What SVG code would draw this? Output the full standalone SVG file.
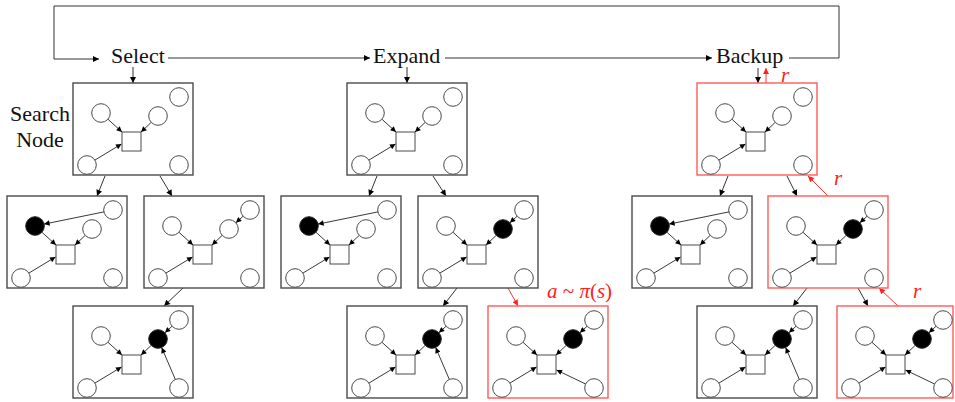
<svg xmlns="http://www.w3.org/2000/svg" xmlns:xlink="http://www.w3.org/1999/xlink" width="955" height="402" viewBox="0 0 955 402">
<style>
.box{fill:#fff;stroke:#4a4a4a;stroke-width:1.4}
.rbox{fill:#fff;stroke:#ff5a5a;stroke-width:1.4}
.c{fill:#fff;stroke:#4a4a4a;stroke-width:1}
.b{fill:#000;stroke:#222;stroke-width:1}
.sq{fill:#fff;stroke:#4a4a4a;stroke-width:1}
.e{stroke:#222;stroke-width:0.9;fill:none;marker-end:url(#ah)}
.k{stroke:#333;stroke-width:1;fill:none}
.ka{stroke:#333;stroke-width:1;fill:none;marker-end:url(#ak)}
.ra{stroke:#ff3030;stroke-width:1;fill:none;marker-end:url(#ar)}
.lbl{font-size:22px;fill:#111}
.rl{font-size:21px;fill:#ff2020}
</style>
<defs>
<marker id="ah" viewBox="0 0 10 10" refX="10" refY="5" markerWidth="6.5" markerHeight="5.5" markerUnits="userSpaceOnUse" orient="auto"><path d="M0,0L10,5L0,10z" fill="#000"/></marker>
<marker id="ak" viewBox="0 0 10 10" refX="10" refY="5" markerWidth="7" markerHeight="6" markerUnits="userSpaceOnUse" orient="auto"><path d="M0,0L10,5L0,10z" fill="#000"/></marker>
<marker id="ar" viewBox="0 0 10 10" refX="10" refY="5" markerWidth="7" markerHeight="6" markerUnits="userSpaceOnUse" orient="auto"><path d="M0,0L10,5L0,10z" fill="#ff2020"/></marker>
<g id="base">
<rect class="sq" x="49" y="49" width="19" height="19"/>
<circle class="c" cx="106" cy="14" r="9.3"/>
<circle class="c" cx="14" cy="82" r="9.3"/>
<circle class="c" cx="106" cy="82" r="9.3"/>
<line class="e" x1="34.9" y1="36.2" x2="49" y2="49"/>
<line class="e" x1="78.2" y1="39.4" x2="68" y2="49"/>
<line class="e" x1="21.9" y1="77.1" x2="48.5" y2="61"/>
</g>
</defs>

<g id="connectors">
<polyline class="k" points="839,58 839,6 54,6 54,59"/>
<line class="ka" x1="54" y1="59" x2="99" y2="59"/>
<line class="ka" x1="168" y1="58" x2="370" y2="58"/>
<line class="ka" x1="445" y1="58" x2="712" y2="58"/>
<line class="k" x1="789" y1="58" x2="839" y2="58"/>
<line class="ka" x1="133" y1="67" x2="133" y2="83"/>
<line class="ka" x1="407" y1="67" x2="407" y2="83"/>
<line class="ka" x1="758" y1="68" x2="758" y2="83"/>
<line class="ra" x1="766" y1="83" x2="766" y2="68"/>
<line class="ka" x1="105" y1="176" x2="97" y2="196"/>
<line class="ka" x1="160" y1="176" x2="172" y2="196"/>
<line class="ka" x1="183" y1="288" x2="164" y2="306"/>
<line class="ka" x1="377" y1="176" x2="369" y2="196"/>
<line class="ka" x1="433" y1="176" x2="446" y2="196"/>
<line class="ka" x1="457" y1="288" x2="443" y2="306"/>
<line class="ra" x1="508" y1="288" x2="518" y2="306"/>
<line class="ka" x1="728" y1="176" x2="720" y2="196"/>
<line class="ka" x1="787" y1="176" x2="797" y2="196"/>
<line class="ra" x1="828" y1="196" x2="808" y2="176"/>
<line class="ka" x1="807" y1="288" x2="793" y2="306"/>
<line class="ka" x1="858" y1="288" x2="868" y2="306"/>
<line class="ra" x1="898" y1="306" x2="879" y2="288"/>
</g>

<g id="labels" font-family="'Liberation Serif', 'DejaVu Serif', serif">
<text class="lbl" font-family="Liberation Serif, DejaVu Serif, serif" x="111" y="63">Select</text>
<text class="lbl" font-family="Liberation Serif, DejaVu Serif, serif" x="373" y="63">Expand</text>
<text class="lbl" font-family="Liberation Serif, DejaVu Serif, serif" x="716" y="63">Backup</text>
<text class="lbl" font-family="Liberation Serif, DejaVu Serif, serif" x="40" y="121" text-anchor="middle">Search</text>
<text class="lbl" font-family="Liberation Serif, DejaVu Serif, serif" x="40" y="147" text-anchor="middle">Node</text>
<text class="rl" font-family="Liberation Serif, DejaVu Serif, serif" x="547" y="298"><tspan font-style="italic">a</tspan> ~ <tspan font-style="italic">π</tspan>(<tspan font-style="italic">s</tspan>)</text>
<text class="rl" font-family="Liberation Serif, DejaVu Serif, serif" x="781" y="82" font-style="italic">r</text>
<text class="rl" font-family="Liberation Serif, DejaVu Serif, serif" x="834" y="185" font-style="italic">r</text>
<text class="rl" font-family="Liberation Serif, DejaVu Serif, serif" x="913" y="298" font-style="italic">r</text>
</g>

<!-- Select column -->
<g id="sel-root" transform="translate(73,83)">
<rect class="box" width="120" height="92"/>
<use xlink:href="#base"/>
<circle class="c" cx="28" cy="30" r="9.3"/>
<circle class="c" cx="85" cy="33" r="9.3"/>
</g>
<g id="sel-a" transform="translate(7,196)">
<rect class="box" width="120" height="92"/>
<use xlink:href="#base"/>
<circle class="b" cx="28" cy="30" r="9.3"/>
<circle class="c" cx="85" cy="33" r="9.3"/>
<line class="e" x1="96.9" y1="15.9" x2="37.1" y2="28.1"/>
</g>
<g id="sel-b" transform="translate(144,196)">
<rect class="box" width="120" height="92"/>
<use xlink:href="#base"/>
<circle class="c" cx="28" cy="30" r="9.3"/>
<circle class="c" cx="85" cy="33" r="9.3"/>
<line class="e" x1="99.1" y1="20.2" x2="91.9" y2="26.8"/>
</g>
<g id="sel-c" transform="translate(73,306)">
<rect class="box" width="120" height="92"/>
<use xlink:href="#base"/>
<circle class="c" cx="28" cy="30" r="9.3"/>
<circle class="b" cx="85" cy="33" r="9.3"/>
<line class="e" x1="99.1" y1="20.2" x2="91.9" y2="26.8"/>
<line class="e" x1="102.3" y1="73.4" x2="88.7" y2="41.6"/>
</g>

<!-- Expand column -->
<g id="exp-root" transform="translate(347,83)">
<rect class="box" width="120" height="92"/>
<use xlink:href="#base"/>
<circle class="c" cx="28" cy="30" r="9.3"/>
<circle class="c" cx="85" cy="33" r="9.3"/>
</g>
<g id="exp-a" transform="translate(281,196)">
<rect class="box" width="120" height="92"/>
<use xlink:href="#base"/>
<circle class="b" cx="28" cy="30" r="9.3"/>
<circle class="c" cx="85" cy="33" r="9.3"/>
<line class="e" x1="96.9" y1="15.9" x2="37.1" y2="28.1"/>
</g>
<g id="exp-b" transform="translate(418,196)">
<rect class="box" width="120" height="92"/>
<use xlink:href="#base"/>
<circle class="c" cx="28" cy="30" r="9.3"/>
<circle class="b" cx="85" cy="33" r="9.3"/>
<line class="e" x1="99.1" y1="20.2" x2="91.9" y2="26.8"/>
</g>
<g id="exp-c" transform="translate(347,306)">
<rect class="box" width="120" height="92"/>
<use xlink:href="#base"/>
<circle class="c" cx="28" cy="30" r="9.3"/>
<circle class="b" cx="85" cy="33" r="9.3"/>
<line class="e" x1="99.1" y1="20.2" x2="91.9" y2="26.8"/>
<line class="e" x1="102.3" y1="73.4" x2="88.7" y2="41.6"/>
</g>
<g id="exp-d" transform="translate(488,306)">
<rect class="rbox" width="120" height="92"/>
<use xlink:href="#base"/>
<circle class="c" cx="28" cy="30" r="9.3"/>
<circle class="b" cx="85" cy="33" r="9.3"/>
<line class="e" x1="99.1" y1="20.2" x2="91.9" y2="26.8"/>
<line class="e" x1="97.6" y1="78" x2="68.5" y2="64"/>
</g>

<!-- Backup column -->
<g id="bak-root" transform="translate(697,83)">
<rect class="rbox" width="120" height="92"/>
<use xlink:href="#base"/>
<circle class="c" cx="28" cy="30" r="9.3"/>
<circle class="c" cx="85" cy="33" r="9.3"/>
</g>
<g id="bak-a" transform="translate(632,196)">
<rect class="box" width="120" height="92"/>
<use xlink:href="#base"/>
<circle class="b" cx="28" cy="30" r="9.3"/>
<circle class="c" cx="85" cy="33" r="9.3"/>
<line class="e" x1="96.9" y1="15.9" x2="37.1" y2="28.1"/>
</g>
<g id="bak-b" transform="translate(768,196)">
<rect class="rbox" width="120" height="92"/>
<use xlink:href="#base"/>
<circle class="c" cx="28" cy="30" r="9.3"/>
<circle class="b" cx="85" cy="33" r="9.3"/>
<line class="e" x1="99.1" y1="20.2" x2="91.9" y2="26.8"/>
</g>
<g id="bak-c" transform="translate(697,306)">
<rect class="box" width="120" height="92"/>
<use xlink:href="#base"/>
<circle class="c" cx="28" cy="30" r="9.3"/>
<circle class="b" cx="85" cy="33" r="9.3"/>
<line class="e" x1="99.1" y1="20.2" x2="91.9" y2="26.8"/>
<line class="e" x1="102.3" y1="73.4" x2="88.7" y2="41.6"/>
</g>
<g id="bak-d" transform="translate(837,306)">
<rect class="rbox" width="116" height="92"/>
<use xlink:href="#base"/>
<circle class="c" cx="28" cy="30" r="9.3"/>
<circle class="b" cx="85" cy="33" r="9.3"/>
<line class="e" x1="99.1" y1="20.2" x2="91.9" y2="26.8"/>
<line class="e" x1="97.6" y1="78" x2="68.5" y2="64"/>
</g>
</svg>
